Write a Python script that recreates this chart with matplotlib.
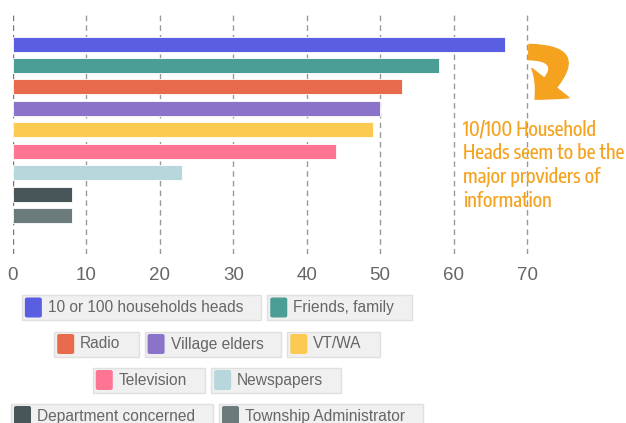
import matplotlib
matplotlib.use('Agg')
import matplotlib.pyplot as plt
import matplotlib.font_manager as fm
from matplotlib.patches import FancyBboxPatch, FancyArrowPatch
from matplotlib.transforms import Affine2D

# data
sources = ['10 or 100 households heads', 'Friends, family', 'Radio', 'Village elders',
           'VT/WA', 'Television', 'Newspapers', 'Department concerned', 'Township Administrator']
counts = [67, 58, 53, 50, 49, 44, 23, 8, 8]
colors = ['#5a5fe2', '#4a9e96', '#e86a4c', '#8a73c9', '#fdca51', '#fe7593', '#b7d7dc', '#485659', '#6b7a7b']
ticks = [0, 10, 20, 30, 40, 50, 60, 70]
legend_rows = [[0, 1], [2, 3, 4], [5, 6], [7, 8]]
note_lines = ['10/100 Household', 'Heads seem to be the', 'major providers of', 'information']

W, H = 626, 423
ORANGE = '#f5a21e'
names = {f.name for f in fm.fontManager.ttflist}
narrow = [n for n in sorted(names) if ('Condensed' in n or 'Narrow' in n)
          and 'Mono' not in n and 'Serif' not in n]
narrow.sort(key=lambda n: ('Sans' not in n, n))
note_family = narrow[:1] + ['Liberation Sans', 'DejaVu Sans']
plt.rcParams['font.family'] = ['Liberation Sans', 'DejaVu Sans']

fig = plt.figure(figsize=(W / 100, H / 100), dpi=100)
ax = fig.add_axes([13 / W, 1 - 254 / H, 613 / W, 241 / H])

ypos = list(range(len(sources)))
ax.barh(ypos, counts, height=0.7, color=colors, edgecolor='white', linewidth=0.6, zorder=3)
ax.set_ylim(9.8, -1.45)
ax.set_xlim(0, 613 / 7.343)
ax.set_xticks(ticks)
ax.set_yticks([])
for t in ticks:
    ax.axvline(t, color='#999999' if t else '#777777', lw=1, ls=(0, (4, 3)), zorder=1)
for s in ax.spines.values():
    s.set_visible(False)
ax.tick_params(axis='x', length=0, pad=9, labelsize=13.5, labelcolor='#666666')

renderer = fig.canvas.get_renderer()
tf = fig.transFigure

# annotation: fit the longest line to ~162 px
probe = fig.text(0, 0, note_lines[1], fontsize=10, family=note_family, weight='medium')
fs = 10 * 162 / probe.get_window_extent(renderer).width
probe.remove()
for k, line in enumerate(note_lines):
    fig.text(463 / W, 1 - (135 + 24 * k) / H, line, fontsize=fs, color=ORANGE,
             family=note_family, weight='medium', va='baseline', ha='left', zorder=6)

# curved arrow (pixel coords from top-left, flipped to display)
arr = FancyArrowPatch((526, 52), (533, 101), connectionstyle='angle3,angleA=0,angleB=42',
                      arrowstyle='simple,head_length=16,head_width=34,tail_width=11',
                      color=ORANGE, zorder=5)
fig.add_artist(arr)
arr.set_transform(Affine2D().scale(1, -1).translate(0, H))

# legend boxes laid out in figure pixels
row_y = [307.5, 344, 380, 416]
cx, gap, bh = 217, 6, 25
for r, row in enumerate(legend_rows):
    widths = []
    labels = []
    for i in row:
        t = fig.text(0, 0, sources[i], fontsize=11.2, color='#666666', va='center', ha='left')
        tw = t.get_window_extent(renderer).width
        labels.append(t)
        widths.append(3 + 17 + 6 + tw + 18)
    x = cx - (sum(widths) + gap * (len(row) - 1)) / 2
    yc = row_y[r]
    for i, t, w in zip(row, labels, widths):
        fig.add_artist(FancyBboxPatch((x / W, 1 - (yc + bh / 2) / H), w / W, bh / H,
                                      boxstyle='square,pad=0', transform=tf,
                                      fc='#f0f0f0', ec='#e0e0e0', lw=1))
        fig.add_artist(FancyBboxPatch(((x + 3) / W, 1 - (yc + 10) / H), 17 / W, 20 / H,
                                      boxstyle='round,pad=0,rounding_size=0.004', transform=tf,
                                      fc=colors[i], ec='none'))
        t.set_position(((x + 26) / W, 1 - yc / H))
        t.set_zorder(6)
        x += w + gap

fig.savefig('out.png', dpi=100)
